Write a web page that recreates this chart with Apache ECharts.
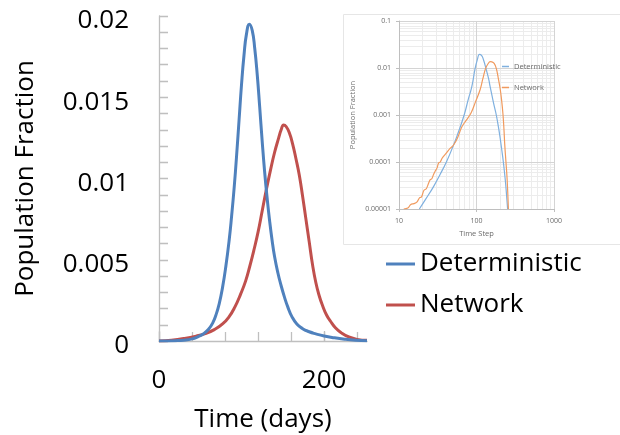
<!DOCTYPE html>
<html>
<head>
<meta charset="utf-8">
<title>Population Fraction</title>
<script src="https://cdn.jsdelivr.net/npm/echarts@6.0.0/dist/echarts.min.js"></script>
<style>
  html, body { margin: 0; padding: 0; background: #fff; }
  #main { width: 620px; height: 435px; }
</style>
</head>
<body>
<div id="main"></div>
<script>
// main chart, linear axes (time in days)
var detDays   = [0, 20, 30, 40, 47, 54, 60, 65, 69, 73, 77, 81, 85, 88, 91, 94, 97, 100, 103, 106, 109.5, 113, 116, 119, 122, 125, 128, 131, 134, 137, 140, 144, 148, 152, 156, 161, 167, 174, 182, 190, 200, 212, 225, 238, 252];
var detValues = [0, 0.00002, 0.00005, 0.00013, 0.00026, 0.00045, 0.00072, 0.0011, 0.0016, 0.0023, 0.0033, 0.0046, 0.0062, 0.0077, 0.0094, 0.0114, 0.0136, 0.0158, 0.0176, 0.0189, 0.0195, 0.0191, 0.0180, 0.0164, 0.0144, 0.0123, 0.0104, 0.0088, 0.0074, 0.0062, 0.0052, 0.0042, 0.0034, 0.0027, 0.0021, 0.0015, 0.00105, 0.00076, 0.00057, 0.00044, 0.00031, 0.0002, 0.00011, 0.00005, 0.00002];
var netDays   = [0, 15, 30, 45, 57, 67, 77, 85, 92, 99, 105, 110, 115, 120, 125, 130, 135, 140, 145, 148, 151, 154, 158, 162, 166, 170, 174, 178, 182, 186, 190, 194, 198, 203, 208, 214, 221, 230, 240, 252];
var netValues = [0, 0.00005, 0.00015, 0.0003, 0.00047, 0.0007, 0.00105, 0.0015, 0.0021, 0.0029, 0.0037, 0.0046, 0.0056, 0.0067, 0.0080, 0.0093, 0.0105, 0.0116, 0.0125, 0.0130, 0.0133, 0.0132, 0.0128, 0.0121, 0.0112, 0.0102, 0.0089, 0.0075, 0.0061, 0.0047, 0.0036, 0.0028, 0.0022, 0.0016, 0.0012, 0.0008, 0.0005, 0.00025, 0.0001, 0.00004];

// inset chart, log-log axes (time step)
var detSteps     = [18.3, 22, 27.9, 34, 40.6, 49.5, 58, 69.3, 78, 87, 96, 103, 109, 116, 123, 133, 143, 150, 160, 170, 180, 192, 202, 212, 222, 234, 243, 252];
var detLogValues = [0.00001, 0.000016, 0.00003, 0.000055, 0.000098, 0.00021, 0.00042, 0.001, 0.0021, 0.004, 0.0098, 0.0155, 0.0195, 0.0186, 0.015, 0.0095, 0.006, 0.004, 0.0024, 0.0015, 0.001, 0.00055, 0.00032, 0.00018, 0.0001, 0.000045, 0.000022, 0.00001];
var netSteps     = [11.5, 13, 14.2, 15.5, 17, 18.5, 19.5, 21, 22.5, 24, 25.3, 26.5, 28, 29.5, 31, 32.4, 34, 36, 38, 41.5, 45, 50.6, 57, 64.8, 74, 85, 97, 111, 121, 131, 141, 150, 158, 169, 180, 192, 201, 210, 220, 226, 232, 240, 249, 258];
var netLogValues = [0.00001, 0.0000105, 0.0000125, 0.000013, 0.000014, 0.0000175, 0.000018, 0.000025, 0.000027, 0.000035, 0.000042, 0.000044, 0.000055, 0.000065, 0.000075, 0.000095, 0.0001, 0.00012, 0.000135, 0.00016, 0.00019, 0.00023, 0.00033, 0.00056, 0.00078, 0.0011, 0.0019, 0.0034, 0.006, 0.0098, 0.0123, 0.0136, 0.0135, 0.0125, 0.0098, 0.0058, 0.0038, 0.0022, 0.001, 0.0005, 0.00022, 0.0001, 0.00004, 0.00001];

// tick labels
var yTickLabels = ['0', '0.005', '0.01', '0.015', '0.02'];
var xTickValues = [0, 200];
var xTickLabels = ['0', '200'];
var xMinorTicks = [0, 40, 80, 120, 160, 200, 240];
var insetXLabels = ['10', '100', '1000'];
var insetYLabels = ['0.00001', '0.0001', '0.001', '0.01', '0.1'];

function pairs(xs, ys) {
  return xs.map(function (x, i) { return [x, ys[i]]; });
}

var axisGray = '#bfbfbf';
var insetText = '#6b6b6b';

var chart = echarts.init(document.getElementById('main'));

var option = {
  animation: false,
  backgroundColor: '#fff',
  textStyle: { fontFamily: 'Open Sans' },
  graphic: [{
    id: 'panel',
    type: 'rect',
    z: -3,
    shape: { x: 343.5, y: 14.5, width: 290, height: 230 },
    style: { fill: '#fff', stroke: '#e6e6e6', lineWidth: 1 }
  }],
  grid: [
    { left: 159, top: 16, width: 208, height: 325, outerBoundsMode: 'none' },
    { left: 399, top: 21, width: 155, height: 188, outerBoundsMode: 'none' }
  ],
  legend: [{
    data: ['Deterministic', 'Network'],
    orient: 'vertical',
    left: 386,
    top: 251,
    padding: 0,
    icon: 'rect',
    itemWidth: 29,
    itemHeight: 3,
    itemGap: 15,
    selectedMode: false,
    textStyle: { fontSize: 26, color: '#000', fontFamily: 'Open Sans' }
  }, {
    data: ['Deterministic (log)', 'Network (log)'],
    orient: 'vertical',
    left: 502,
    top: 62.5,
    padding: 0,
    icon: 'rect',
    itemWidth: 7,
    itemHeight: 1.5,
    itemGap: 13,
    selectedMode: false,
    formatter: function (name) { return name.replace(' (log)', ''); },
    textStyle: { fontSize: 7.5, color: insetText, fontFamily: 'Open Sans' }
  }],
  xAxis: [{
    type: 'value',
    gridIndex: 0,
    min: 0,
    max: 252,
    interval: 40,
    name: 'Time (days)',
    nameLocation: 'middle',
    nameGap: 66,
    nameMoveOverlap: false,
    nameTextStyle: { fontSize: 26, color: '#000' },
    axisLine: { show: true, lineStyle: { color: axisGray, width: 1.3 } },
    axisTick: { show: true, inside: true, length: 9, customValues: xMinorTicks, lineStyle: { color: axisGray, width: 1.3 } },
    axisLabel: {
      fontSize: 26, color: '#000', margin: 27,
      customValues: xTickValues,
      formatter: function (v) { return xTickLabels[xTickValues.indexOf(v)]; }
    },
    splitLine: { show: false }
  }, {
    type: 'value',
    gridIndex: 0,
    min: 0,
    max: 252,
    interval: 40,
    axisLine: { show: false },
    axisTick: { show: true, length: 10, customValues: xTickValues, lineStyle: { color: axisGray, width: 1.3 } },
    axisLabel: { show: false },
    splitLine: { show: false }
  }, {
    type: 'log',
    logBase: 10,
    gridIndex: 1,
    min: 10,
    max: 1000,
    name: 'Time Step',
    nameLocation: 'middle',
    nameGap: 21,
    nameMoveOverlap: false,
    nameTextStyle: { fontSize: 7.5, color: insetText },
    axisLine: { show: true, lineStyle: { color: axisGray } },
    axisTick: { show: true, length: 3, lineStyle: { color: axisGray } },
    axisLabel: {
      fontSize: 7, color: insetText, margin: 8,
      formatter: function (v) { return insetXLabels[Math.round(Math.log10(v)) - 1]; }
    },
    splitLine: { show: true, lineStyle: { color: '#d4d4d4' } }
  }],
  yAxis: [{
    type: 'value',
    gridIndex: 0,
    min: 0,
    max: 0.02,
    interval: 0.005,
    name: 'Population Fraction',
    nameLocation: 'middle',
    nameGap: 120,
    nameMoveOverlap: false,
    nameTextStyle: { fontSize: 26, color: '#000' },
    axisLine: { show: true, lineStyle: { color: axisGray, width: 1.3 } },
    axisTick: { show: true, inside: true, length: 9, lineStyle: { color: axisGray, width: 1.3 } },
    minorTick: { show: true, splitNumber: 5, length: 9, lineStyle: { color: axisGray, width: 1.3 } },
    axisLabel: {
      fontSize: 26, color: '#000', margin: 30,
      verticalAlign: 'top',
      lineHeight: 10,
      formatter: function (v) { return yTickLabels[Math.round(v / 0.005)]; }
    },
    splitLine: { show: false }
  }, {
    type: 'value',
    gridIndex: 0,
    min: 0,
    max: 0.02,
    interval: 0.005,
    axisLine: { show: false },
    axisTick: { show: true, length: 9, lineStyle: { color: axisGray, width: 1.3 } },
    minorTick: { show: true, splitNumber: 5, length: 9, lineStyle: { color: axisGray, width: 1.3 } },
    axisLabel: { show: false },
    splitLine: { show: false }
  }, {
    type: 'log',
    logBase: 10,
    gridIndex: 1,
    min: 0.00001,
    max: 0.1,
    name: 'Population Fraction',
    nameLocation: 'middle',
    nameGap: 42,
    nameMoveOverlap: false,
    nameTextStyle: { fontSize: 7.5, color: insetText },
    axisLine: { show: true, lineStyle: { color: axisGray } },
    axisTick: { show: true, length: 3, lineStyle: { color: axisGray } },
    axisLabel: {
      fontSize: 7, color: insetText, margin: 8,
      formatter: function (v) { return insetYLabels[Math.round(Math.log10(v)) + 5]; }
    },
    splitLine: { show: true, lineStyle: { color: '#d4d4d4' } }
  }],
  series: [{
    name: 'Deterministic',
    type: 'line',
    xAxisIndex: 0,
    yAxisIndex: 0,
    data: pairs(detDays, detValues),
    symbol: 'none',
    smooth: 0.5,
    color: '#4F81BD',
    lineStyle: { width: 3, color: '#4F81BD' },
    z: 3
  }, {
    name: 'Network',
    type: 'line',
    xAxisIndex: 0,
    yAxisIndex: 0,
    data: pairs(netDays, netValues),
    symbol: 'none',
    smooth: 0.5,
    color: '#C0504D',
    lineStyle: { width: 3, color: '#C0504D' },
    z: 2
  }, {
    name: 'Deterministic (log)',
    type: 'line',
    xAxisIndex: 2,
    yAxisIndex: 2,
    data: pairs(detSteps, detLogValues),
    symbol: 'none',
    smooth: 0.5,
    clip: true,
    color: '#7fb0df',
    lineStyle: { width: 1.2, color: '#7fb0df' }
  }, {
    name: 'Network (log)',
    type: 'line',
    xAxisIndex: 2,
    yAxisIndex: 2,
    data: pairs(netSteps, netLogValues),
    symbol: 'none',
    smooth: 0.4,
    clip: true,
    color: '#f09a5e',
    lineStyle: { width: 1.2, color: '#f09a5e' }
  }]
};

chart.setOption(option);

// minor grid lines of the log-log inset (2..9 in every decade)
var minorLines = [];
var x0 = chart.convertToPixel({ xAxisIndex: 2 }, 10);
var x1 = chart.convertToPixel({ xAxisIndex: 2 }, 1000);
var y0 = chart.convertToPixel({ yAxisIndex: 2 }, 0.00001);
var y1 = chart.convertToPixel({ yAxisIndex: 2 }, 0.1);
[10, 100].forEach(function (d) {
  for (var m = 2; m <= 9; m++) {
    var px = Math.round(chart.convertToPixel({ xAxisIndex: 2 }, d * m)) + 0.5;
    minorLines.push({
      id: 'mx' + d * m, type: 'line', z: -2, silent: true,
      shape: { x1: px, y1: y1, x2: px, y2: y0 },
      style: { stroke: '#ececec', lineWidth: 1 }
    });
  }
});
[0.00001, 0.0001, 0.001, 0.01].forEach(function (d, k) {
  for (var m = 2; m <= 9; m++) {
    var py = Math.round(chart.convertToPixel({ yAxisIndex: 2 }, d * m)) + 0.5;
    minorLines.push({
      id: 'my' + k + '_' + m, type: 'line', z: -2, silent: true,
      shape: { x1: x0, y1: py, x2: x1, y2: py },
      style: { stroke: '#ececec', lineWidth: 1 }
    });
  }
});
chart.setOption({ graphic: minorLines });
</script>
</body>
</html>
